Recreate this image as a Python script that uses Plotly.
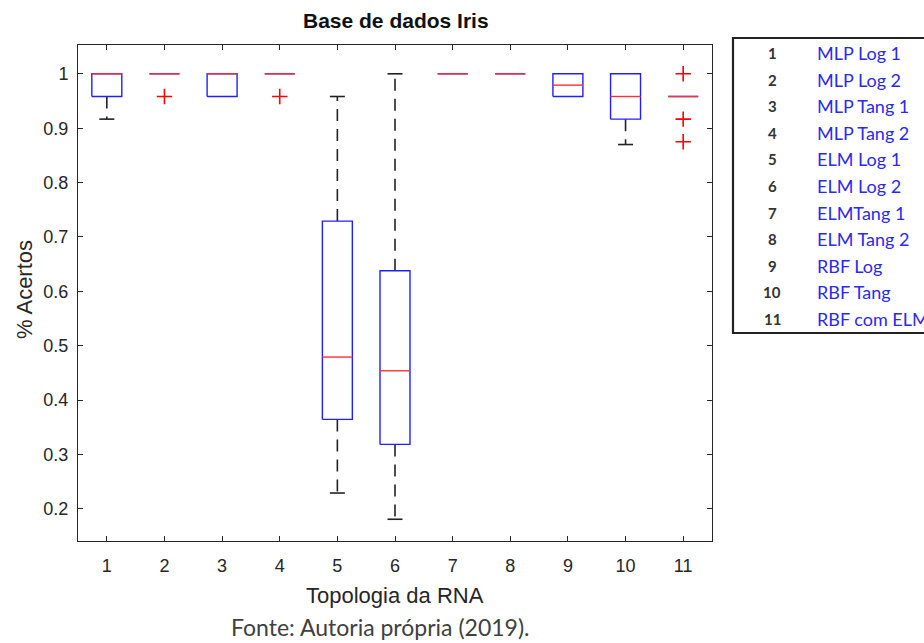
import plotly.graph_objects as go

# ---------------- data ----------------
topologies = [1, 2, 3, 4, 5, 6, 7, 8, 9, 10, 11]
q1 = [0.9583, 1.0, 0.9583, 1.0, 0.3646, 0.3186, 1.0, 1.0, 0.9583, 0.9167, 0.9583]
median = [1.0, 1.0, 1.0, 1.0, 0.4792, 0.4540, 1.0, 1.0, 0.9792, 0.9583, 0.9583]
q3 = [1.0, 1.0, 1.0, 1.0, 0.7292, 0.6380, 1.0, 1.0, 1.0, 1.0, 0.9583]
whisk_lo = [0.9167, 1.0, 0.9583, 1.0, 0.2292, 0.1810, 1.0, 1.0, 0.9583, 0.8700, 0.9583]
whisk_hi = [1.0, 1.0, 1.0, 1.0, 0.9583, 1.0, 1.0, 1.0, 1.0, 1.0, 0.9583]
outlier_x = [2, 4, 11, 11, 11]
outlier_y = [0.9583, 0.9583, 1.0, 0.9167, 0.875]

legend_nums = ["1", "2", "3", "4", "5", "6", "7", "8", "9", "10", "11"]
legend_names = ["MLP Log 1", "MLP Log 2", "MLP Tang 1", "MLP Tang 2", "ELM Log 1",
                "ELM Log 2", "ELMTang 1", "ELM Tang 2", "RBF Log", "RBF Tang", "RBF com ELM"]

ytick_vals = [0.2, 0.3, 0.4, 0.5, 0.6, 0.7, 0.8, 0.9, 1.0]
ytick_text = ["0.2", "0.3", "0.4", "0.5", "0.6", "0.7", "0.8", "0.9", "1"]

# ---------------- build ----------------
HW = 0.26   # half box width
CW = 0.13   # half cap width

box_x, box_y = [], []
med_x, med_y = [], []
wh_x, wh_y = [], []
cap_x, cap_y = [], []
for x, a, m, b, lo, hi in zip(topologies, q1, median, q3, whisk_lo, whisk_hi):
    box_x += [x - HW, x + HW, x + HW, x - HW, x - HW, None]
    box_y += [a, a, b, b, a, None]
    med_x += [x - HW, x + HW, None]
    med_y += [m, m, None]
    if hi > b:
        wh_x += [x, x, None]; wh_y += [b, hi, None]
        cap_x += [x - CW, x + CW, None]; cap_y += [hi, hi, None]
    if lo < a:
        wh_x += [x, x, None]; wh_y += [a, lo, None]
        cap_x += [x - CW, x + CW, None]; cap_y += [lo, lo, None]

fig = go.Figure()
fig.add_trace(go.Scatter(x=wh_x, y=wh_y, mode="lines",
                         line=dict(color="#222222", width=1.6, dash="12px,8px"),
                         hoverinfo="skip"))
fig.add_trace(go.Scatter(x=cap_x, y=cap_y, mode="lines",
                         line=dict(color="#222222", width=1.6), hoverinfo="skip"))
fig.add_trace(go.Scatter(x=box_x, y=box_y, mode="lines",
                         line=dict(color="#2020ff", width=1.4), hoverinfo="skip"))
fig.add_trace(go.Scatter(x=med_x, y=med_y, mode="lines",
                         line=dict(color="#ff3030", width=1.4), hoverinfo="skip"))
fig.add_trace(go.Scatter(x=outlier_x, y=outlier_y, mode="markers",
                         marker=dict(symbol="cross-thin", size=11,
                                     line=dict(color="#ff0000", width=1.6)),
                         hoverinfo="skip"))

# body margin is removed by the post script, so figure == page
W, H = 924, 643
L, R, T, B = 78, 712, 45, 541   # plot area in page pixels
def px(xp):
    return (xp - L) / (R - L)
def py(yp):
    return (B - yp) / (B - T)

LEG_FONT = "Lato, Open Sans, sans-serif"
AX_FONT = "Liberation Sans, Arial, sans-serif"
annotations = []
row_y0, row_dy = 53, 26.6
for i, (n, name) in enumerate(zip(legend_nums, legend_names)):
    yy = py(row_y0 + i * row_dy)
    annotations.append(dict(x=px(772), y=yy, xref="paper", yref="paper", text="<b>" + n + "</b>",
                            showarrow=False, xanchor="center", yanchor="middle",
                            font=dict(family=LEG_FONT, size=15, color="#333333")))
    annotations.append(dict(x=px(815), y=yy, xref="paper", yref="paper", text=name,
                            showarrow=False, xanchor="left", yanchor="middle",
                            font=dict(family=LEG_FONT, size=18, color="#2a2aee")))
annotations.append(dict(x=px(380), y=py(627), xref="paper", yref="paper",
                        text="Fonte: Autoria própria (2019).", showarrow=False,
                        xanchor="center", yanchor="middle",
                        font=dict(family=LEG_FONT, size=23, color="#404040")))
annotations.append(dict(x=px(24), y=py(290), xref="paper", yref="paper",
                        text="% Acertos", showarrow=False, textangle=-90,
                        xanchor="center", yanchor="middle",
                        font=dict(family=AX_FONT, size=22, color="#262626")))
annotations.append(dict(x=px(395), y=py(595), xref="paper", yref="paper",
                        text="Topologia da RNA", showarrow=False,
                        xanchor="center", yanchor="middle",
                        font=dict(family=AX_FONT, size=22, color="#262626")))
annotations.append(dict(x=px(396), y=py(20), xref="paper", yref="paper",
                        text="<b>Base de dados Iris</b>", showarrow=False,
                        xanchor="center", yanchor="middle",
                        font=dict(family=AX_FONT, size=21, color="#111111")))

shapes = [dict(type="rect", xref="paper", yref="paper", x0=px(733), x1=px(1100),
               y0=py(333), y1=py(38), line=dict(color="#222222", width=2.2),
               fillcolor="rgba(0,0,0,0)", layer="above")]

axis_font = dict(family=AX_FONT, size=18, color="#262626")
fig.update_layout(
    width=W, height=H,
    margin=dict(l=L, r=W - R, t=T, b=H - B),
    paper_bgcolor="white", plot_bgcolor="white",
    showlegend=False,
    xaxis=dict(range=[0.5, 11.5], tickmode="array", tickvals=topologies,
               ticktext=[str(t) for t in topologies],
               ticks="inside", ticklen=5, tickcolor="#262626",
               showline=True, linecolor="#262626", linewidth=1, mirror="ticks",
               showgrid=False, zeroline=False, tickfont=axis_font,
               ticklabelstandoff=8),
    yaxis=dict(range=[0.141, 1.053], tickmode="array", tickvals=ytick_vals,
               ticktext=ytick_text,
               ticks="inside", ticklen=5, tickcolor="#262626",
               showline=True, linecolor="#262626", linewidth=1, mirror="ticks",
               showgrid=False, zeroline=False, tickfont=axis_font,
               ticklabelstandoff=5),
    annotations=annotations,
    shapes=shapes,
)

fig.write_html("out.html", config={"displayModeBar": False},
               post_script="document.body.style.margin='0px';document.body.style.overflow='hidden';")
